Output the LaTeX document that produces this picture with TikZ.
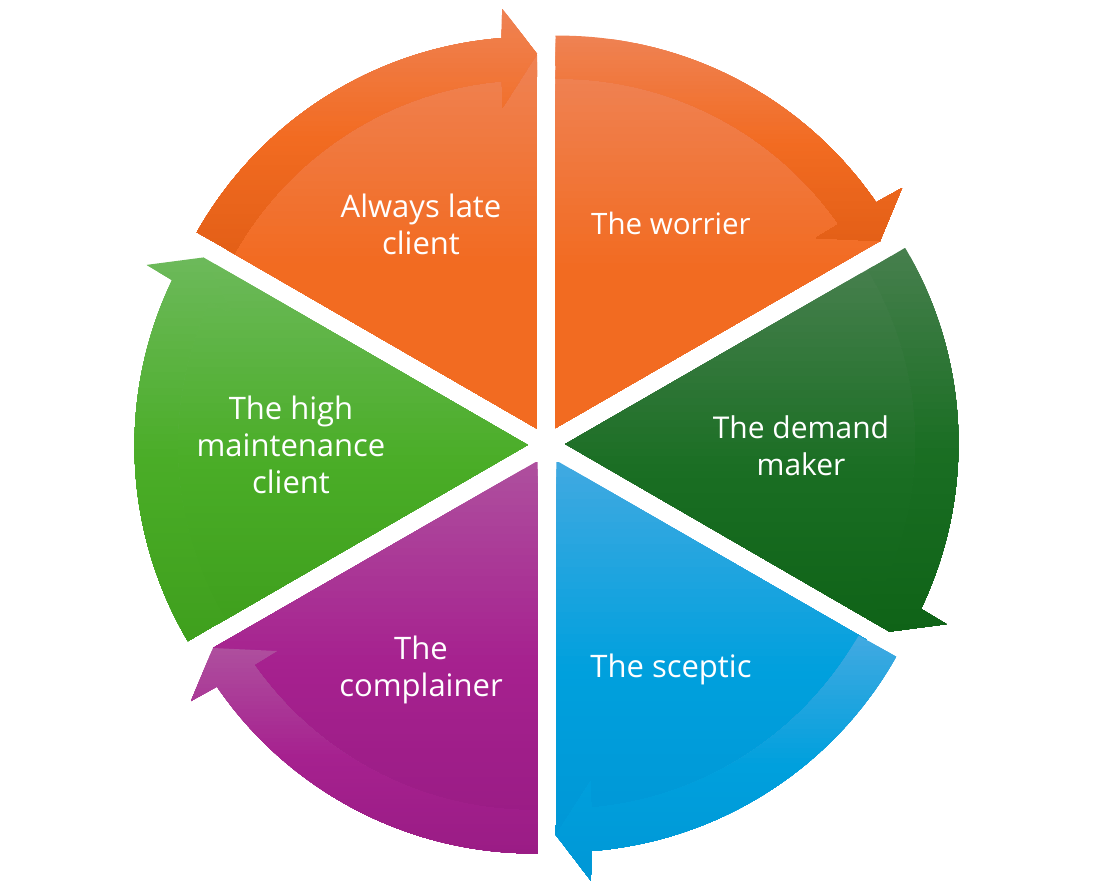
\documentclass[tikz,border=0pt]{standalone}
\usepackage{fontspec}
\setmainfont{Open Sans}
\usetikzlibrary{positioning}
\definecolor{orTop}{HTML}{EF8253}
\definecolor{orMid}{HTML}{F26B21}
\definecolor{orLow}{HTML}{E35F17}
\definecolor{dgTop}{HTML}{467F4D}
\definecolor{dgMid}{HTML}{1A6E23}
\definecolor{dgLow}{HTML}{0F6317}
\definecolor{blTop}{HTML}{40A9E1}
\definecolor{blMid}{HTML}{00A0DD}
\definecolor{blLow}{HTML}{0097D6}
\definecolor{puTop}{HTML}{AE4F9E}
\definecolor{puMid}{HTML}{A6218F}
\definecolor{puLow}{HTML}{9A1C85}
\definecolor{grTop}{HTML}{6CB95A}
\definecolor{grMid}{HTML}{4AAD27}
\definecolor{grLow}{HTML}{3F9F1D}
% paints the clip in force from y=#1 down to y=#2: top colour, then middle at #3 percent, then low
\newcommand{\stripes}[3]{%
  \foreach \n in {0,...,50}{
    \pgfmathsetmacro\yy{#1+(#2-#1)/50*\n}
    \pgfmathsetmacro\tt{\n*2}
    \pgfmathparse{\tt<=#3 ? 1 : 0}
    \ifdim\pgfmathresult pt>0.5pt
      \pgfmathsetmacro\mx{100/#3*\tt}
      \fill[color=shMid!\mx!shTop] (0,-\yy) rectangle (1093,-895);
    \else
      \pgfmathsetmacro\mx{100*(\tt-#3)/(100-#3)}
      \fill[color=shLow!\mx!shMid] (0,-\yy) rectangle (1093,-895);
    \fi
  }}

\begin{document}
\begin{tikzpicture}[x=1pt,y=1pt,
    label node/.style={text=white,align=center,font=\fontsize{31}{37}\selectfont}]
\useasboundingbox (0,0) rectangle (1093,-895);

\foreach \rot/\hue/\wedgelow/\wedgetop/\wedgebot/\rimtop/\rimbot in {
    0/or/orMid/69.5/427/35/242,
    -60/dg/dgLow/266/632/248/632,
    -120/bl/blLow/462/836/636/880,
    -180/pu/puLow/462/819.5/647/853,
    -240/gr/grLow/257/623/257/641,
    -300/or/orMid/55/427/9/253}{
  \colorlet{shTop}{\hue Top}\colorlet{shMid}{\hue Mid}\colorlet{shLow}{\wedgelow}
  % inner wedge, runs on under the arrow
  \begin{scope}
    \clip[shift={(546.5,-444.5)},rotate=\rot]
      (9,16.5) -- (88.63:375) arc[start angle=88.63,end angle=37,radius=375] -- (333.5,203.5) -- cycle;
    \stripes{\wedgetop}{\wedgebot}{55}
  \end{scope}
  \colorlet{shLow}{\hue Low}
  % arrow round the rim
  \begin{scope}
    \clip[shift={(546.5,-444.5)},rotate=\rot]
      (88.74:409) arc[start angle=90.55,end angle=34.49,radius=384.5]
      -- (355.5,256.5) -- (333.5,203.5) -- (269.5,206.5) -- (37:366)
      arc[start angle=34.96,end angle=90.6,radius=340.9] -- cycle;
    \stripes{\rimtop}{\rimbot}{52}
  \end{scope}
}

\node[label node] (late)     at (421,-224) {Always late\\client};
\node[label node,font=\fontsize{29.5}{37}\selectfont] (worrier)  at (671,-223) {The worrier};
\node[label node,font=\fontsize{30}{37}\selectfont] (demand)   at (801,-445.5) {The demand\\maker};
\node[label node] (sceptic)  at (671,-669.5) {The sceptic};
\node[label node] (complain) at (421,-670) {The\\complainer};
\node[label node] (high)     at (291,-445) {The high\\maintenance\\client};
\end{tikzpicture}
\end{document}
